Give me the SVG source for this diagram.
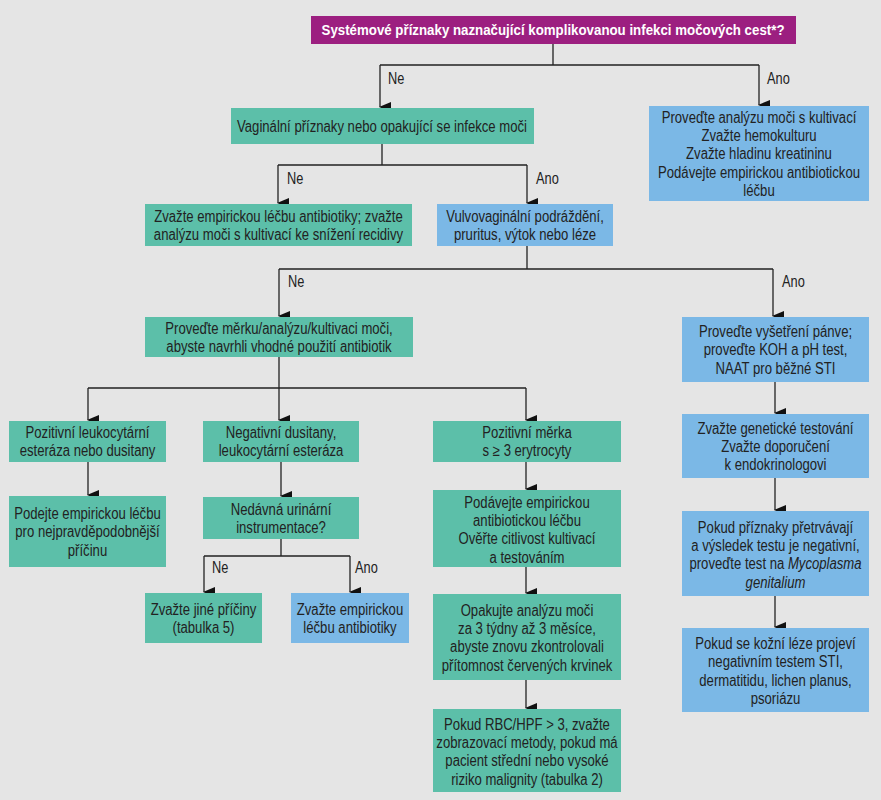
<svg xmlns="http://www.w3.org/2000/svg" width="881" height="800" viewBox="0 0 881 800">
<defs>
<marker id="arr" markerUnits="userSpaceOnUse" markerWidth="10" markerHeight="12" refX="5" refY="11" orient="auto-start-reverse" viewBox="0 0 10 12">
<path d="M0,0 L10,0 L5,12 Z" fill="#111"/>
</marker>
</defs>
<style>
.bg{fill:#e5e5e5}
.t{fill:#5cbfa9}
.b{fill:#7bb8e6}
.p{fill:#9c1f80}
text{font-family:"Liberation Sans",Arial,sans-serif;font-size:16px;fill:#222;text-anchor:middle}
.title{font-weight:bold;font-size:14px;fill:#fff}
.lbl{text-anchor:start}
.c path{fill:none;stroke:#222;stroke-width:1.3}
.c path.a{marker-end:url(#arr)}
</style>
<rect class="bg" x="0" y="0" width="881" height="800"/>
<g class="c" id="connectors">
<path d="M553,44 V65 M380,65 H759"/>
<path class="a" d="M380,65 V107"/>
<path class="a" d="M759,65 V105"/>
<path d="M382,144 V165 M278,165 H527"/>
<path class="a" d="M278,165 V203"/>
<path class="a" d="M527,165 V203"/>
<path d="M527,246 V269 M279,269 H773"/>
<path class="a" d="M279,269 V316"/>
<path class="a" d="M773,269 V316"/>
<path d="M279,357 V388 M88,388 H526"/>
<path class="a" d="M88,388 V420"/>
<path class="a" d="M279,388 V420"/>
<path class="a" d="M526,388 V420"/>
<path class="a" d="M775,382 V413"/>
<path class="a" d="M88,462 V495"/>
<path class="a" d="M281,462 V496"/>
<path class="a" d="M526,462 V489"/>
<path class="a" d="M775,478 V510"/>
<path d="M281,539 V556 M204,556 H350"/>
<path class="a" d="M204,556 V592"/>
<path class="a" d="M350,556 V592"/>
<path class="a" d="M526,567 V593"/>
<path class="a" d="M775,596 V627"/>
<path class="a" d="M526,680 V708"/>
<text class="lbl" transform="translate(388 84) scale(0.8 1)">Ne</text>
<text class="lbl" transform="translate(767 84) scale(0.8 1)">Ano</text>
<text class="lbl" transform="translate(287 184) scale(0.8 1)">Ne</text>
<text class="lbl" transform="translate(536 184) scale(0.8 1)">Ano</text>
<text class="lbl" transform="translate(288 287) scale(0.8 1)">Ne</text>
<text class="lbl" transform="translate(782 287) scale(0.8 1)">Ano</text>
<text class="lbl" transform="translate(212 573) scale(0.8 1)">Ne</text>
<text class="lbl" transform="translate(355 573) scale(0.8 1)">Ano</text>
</g>
<g id="n1"><rect class="p" x="311" y="16" width="485" height="28"/><text class="title" transform="translate(553 35) scale(0.95 1)">Systémové příznaky naznačující komplikovanou infekci močových cest*?</text></g>
<g id="n2"><rect class="t" x="231" y="108" width="303" height="36"/><text transform="translate(382 132) scale(0.82 1)">Vaginální příznaky nebo opakující se infekce moči</text></g>
<g id="n3"><rect class="b" x="649" y="106" width="220" height="95"/><text transform="translate(759 122.5) scale(0.82 1)"><tspan x="0">Proveďte analýzu moči s kultivací</tspan><tspan x="0" dy="18.5">Zvažte hemokulturu</tspan><tspan x="0" dy="18.5">Zvažte hladinu kreatininu</tspan><tspan x="0" dy="18.5">Podávejte empirickou antibiotickou</tspan><tspan x="0" dy="18.5">léčbu</tspan></text></g>
<g id="n4"><rect class="t" x="145" y="204" width="267" height="42"/><text transform="translate(278.5 221.5) scale(0.82 1)"><tspan x="0">Zvažte empirickou léčbu antibiotiky; zvažte</tspan><tspan x="0" dy="18.5">analýzu moči s kultivací ke snížení recidivy</tspan></text></g>
<g id="n5"><rect class="b" x="437" y="204" width="176" height="42"/><text transform="translate(525 221.5) scale(0.82 1)"><tspan x="0">Vulvovaginální podráždění,</tspan><tspan x="0" dy="18.5">pruritus, výtok nebo léze</tspan></text></g>
<g id="n6"><rect class="t" x="145" y="317" width="268" height="40"/><text transform="translate(279 333.5) scale(0.82 1)"><tspan x="0">Proveďte měrku/analýzu/kultivaci moči,</tspan><tspan x="0" dy="18.5">abyste navrhli vhodné použití antibiotik</tspan></text></g>
<g id="n7"><rect class="b" x="682" y="317" width="187" height="65"/><text transform="translate(775.5 337) scale(0.82 1)"><tspan x="0">Proveďte vyšetření pánve;</tspan><tspan x="0" dy="18.5">proveďte KOH a pH test,</tspan><tspan x="0" dy="18.5">NAAT pro běžné STI</tspan></text></g>
<g id="n8"><rect class="t" x="9" y="421" width="157" height="41"/><text transform="translate(87.5 438) scale(0.82 1)"><tspan x="0">Pozitivní leukocytární</tspan><tspan x="0" dy="18.5">esteráza nebo dusitany</tspan></text></g>
<g id="n9"><rect class="t" x="203" y="421" width="156" height="41"/><text transform="translate(281 438) scale(0.82 1)"><tspan x="0">Negativní dusitany,</tspan><tspan x="0" dy="18.5">leukocytární esteráza</tspan></text></g>
<g id="n10"><rect class="t" x="433" y="421" width="188" height="41"/><text transform="translate(527 438) scale(0.82 1)"><tspan x="0">Pozitivní měrka</tspan><tspan x="0" dy="18.5">s ≥ 3 erytrocyty</tspan></text></g>
<g id="n11"><rect class="b" x="682" y="414" width="187" height="64"/><text transform="translate(775.5 433.5) scale(0.82 1)"><tspan x="0">Zvažte genetické testování</tspan><tspan x="0" dy="18.5">Zvažte doporučení</tspan><tspan x="0" dy="18.5">k endokrinologovi</tspan></text></g>
<g id="n12"><rect class="t" x="9" y="496" width="157" height="71"/><text transform="translate(87.5 519) scale(0.82 1)"><tspan x="0">Podejte empirickou léčbu</tspan><tspan x="0" dy="18.5">pro nejpravděpodobnější</tspan><tspan x="0" dy="18.5">příčinu</tspan></text></g>
<g id="n13"><rect class="t" x="203" y="497" width="156" height="42"/><text transform="translate(281 514.5) scale(0.82 1)"><tspan x="0">Nedávná urinární</tspan><tspan x="0" dy="18.5">instrumentace?</tspan></text></g>
<g id="n14"><rect class="t" x="433" y="490" width="188" height="77"/><text transform="translate(527 507.5) scale(0.82 1)"><tspan x="0">Podávejte empirickou</tspan><tspan x="0" dy="18.5">antibiotickou léčbu</tspan><tspan x="0" dy="18.5">Ověřte citlivost kultivací</tspan><tspan x="0" dy="18.5">a testováním</tspan></text></g>
<g id="n15"><rect class="b" x="682" y="511" width="187" height="85"/><text transform="translate(775.5 532.5) scale(0.82 1)"><tspan x="0">Pokud příznaky přetrvávají</tspan><tspan x="0" dy="18.5">a výsledek testu je negativní,</tspan><tspan x="0" dy="18.5">proveďte test na <tspan font-style="italic">Mycoplasma</tspan></tspan><tspan x="0" dy="18.5" font-style="italic">genitalium</tspan></text></g>
<g id="n16"><rect class="t" x="145" y="593" width="117" height="50"/><text transform="translate(203.5 615) scale(0.82 1)"><tspan x="0">Zvažte jiné příčiny</tspan><tspan x="0" dy="18.5">(tabulka 5)</tspan></text></g>
<g id="n17"><rect class="b" x="291" y="593" width="118" height="50"/><text transform="translate(350 615) scale(0.82 1)"><tspan x="0">Zvažte empirickou</tspan><tspan x="0" dy="18.5">léčbu antibiotiky</tspan></text></g>
<g id="n18"><rect class="t" x="433" y="594" width="188" height="86"/><text transform="translate(527 615.5) scale(0.82 1)"><tspan x="0">Opakujte analýzu moči</tspan><tspan x="0" dy="18.5">za 3 týdny až 3 měsíce,</tspan><tspan x="0" dy="18.5">abyste znovu zkontrolovali</tspan><tspan x="0" dy="18.5">přítomnost červených krvinek</tspan></text></g>
<g id="n19"><rect class="b" x="682" y="628" width="187" height="84"/><text transform="translate(775.5 649) scale(0.82 1)"><tspan x="0">Pokud se kožní léze projeví</tspan><tspan x="0" dy="18.5">negativním testem STI,</tspan><tspan x="0" dy="18.5">dermatitidu, lichen planus,</tspan><tspan x="0" dy="18.5">psoriázu</tspan></text></g>
<g id="n20"><rect class="t" x="433" y="709" width="188" height="83"/><text transform="translate(527 729.5) scale(0.82 1)"><tspan x="0">Pokud RBC/HPF &gt; 3, zvažte</tspan><tspan x="0" dy="18.5">zobrazovací metody, pokud má</tspan><tspan x="0" dy="18.5">pacient střední nebo vysoké</tspan><tspan x="0" dy="18.5">riziko malignity (tabulka 2)</tspan></text></g>
</svg>
